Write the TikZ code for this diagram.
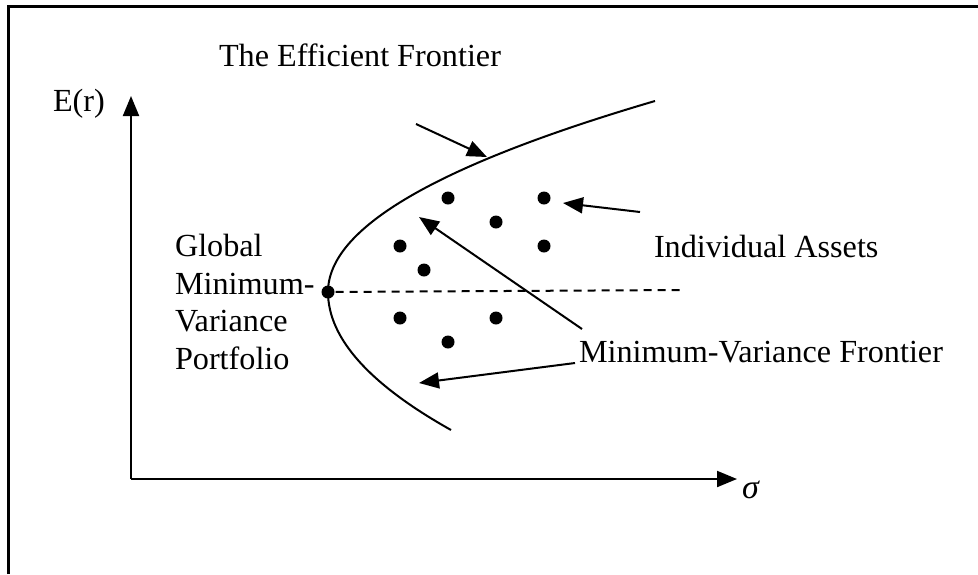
\documentclass[tikz,border=0pt]{standalone}
\usepackage{fontspec}
\setmainfont{Liberation Serif}
\usetikzlibrary{arrows.meta}

\begin{document}
\begin{tikzpicture}[x=.5pt,y=-.5pt,>={Triangle[length=10pt,width=8pt]},line width=1pt,
  font=\fontsize{16.1}{18.8}\selectfont,
  dot/.style={circle,fill,inner sep=0pt,minimum size=6.5pt},
  txt/.style={inner sep=0pt,anchor=west,align=left}]
\useasboundingbox (0,0) rectangle (978,574);
% frame
\draw[line width=1.5pt] (8,574)--(8,6)--(978,6);
% axes
\coordinate (o) at (131,479);
\coordinate (ytip) at (131,96);
\coordinate (xtip) at (737,479);
\draw[->] (o)--(ytip);
\draw[->] (o)--(xtip);
\node[txt] (er) at (52,104) {E(r)};
\node[txt,font=\fontsize{17}{18.8}\selectfont] (sig) at (741,490) {\textit{σ}};
% frontier
\node[dot] (gmv) at (328,292) {};
\draw (655,101) .. controls (437,165) and (328,228) .. (gmv.center)
  .. controls (328,338) and (369,384) .. (451,430);
\draw[dashed,dash pattern=on 4pt off 3pt] (gmv)--(681,290);
% assets
\foreach \n/\x/\y in {a/448/198,b/544/198,c/496/222,d/400/246,e/544/246,f/424/270,g/400/318,h/496/318,i/448/342}
  \node[dot] (\n) at (\x,\y) {};
% labels
\node[txt] (eff) at (218,55) {The Efficient Frontier};
\node[txt] (ind) at (653,246) {Individual Assets};
\node[txt] (mvf) at (578,352) {Minimum-Variance Frontier};
\node[txt] (glob) at (174,302) {Global\\Minimum-\\Variance\\Portfolio};
\coordinate (effa) at (416,124); \coordinate (effb) at (487,157);
\coordinate (inda) at (640,212); \coordinate (indb) at (563,203);
\coordinate (mva) at (582,329); \coordinate (mvb) at (419,217);
\coordinate (mvc) at (575,363); \coordinate (mvd) at (419,383);
\draw[->] (effa)--(effb);
\draw[->] (inda)--(indb);
\draw[->] (mva)--(mvb);
\draw[->] (mvc)--(mvd);
\end{tikzpicture}
\end{document}
